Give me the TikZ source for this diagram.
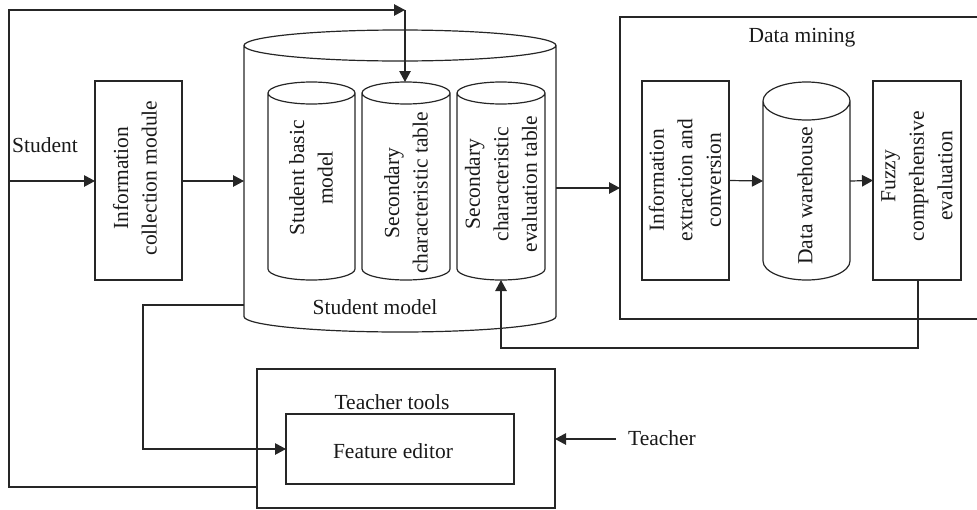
\documentclass[tikz,border=0pt]{standalone}
\usepackage{fontspec}
\setmainfont{Liberation Serif}
\usetikzlibrary{arrows.meta,calc}
\tikzset{
  ln/.style={line width=1.2pt, draw=black!85},
  arr/.style={ln, -{Triangle[length=11pt,width=11.5pt]}},
  txt/.style={font=\fontsize{21.5}{28.5}\selectfont, align=center, inner sep=0pt, text=black!90},
  vtxt/.style={txt, rotate=90},
  blk/.style={ln, inner sep=0pt, outer sep=0pt},
}
\newcommand{\mycyl}[6]{%
  \node[inner sep=0pt, outer sep=0pt, minimum width=#4pt, minimum height=#5pt] (#1) at (#2,#3) {};
  \draw[ln] ([yshift=-#6pt]#1.north west) -- ([yshift=#6pt]#1.south west)
    arc[start angle=180, end angle=360, x radius=#4pt/2, y radius=#6pt]
    -- ([yshift=-#6pt]#1.north east)
    arc[start angle=0, end angle=360, x radius=#4pt/2, y radius=#6pt];
}
\begin{document}
\begin{tikzpicture}[x=1pt,y=-1pt]
\useasboundingbox (0,0) rectangle (977,509);
\clip (0,0) rectangle (977,509);

% Information collection module
\node[blk, draw, minimum width=87pt, minimum height=199pt] (info) at (138.5,180.5) {};
\node[vtxt] at (135,178) {Information\\collection module};

% Student model cylinder and inner tables
\mycyl{sm}{400}{181}{312}{302}{15.5}
\mycyl{ca}{311.5}{181}{87}{198}{11}
\mycyl{cb}{406}{181}{88}{198}{11}
\mycyl{cc}{501}{181}{88}{198}{11}
\node[vtxt] at (311,178) {Student basic\\model};
\node[vtxt] at (406,193) {Secondary\\characteristic table};
\node[vtxt] at (501,184) {Secondary\\characteristic\\evaluation table};
\node[txt] (smlab) at (375,307) {Student model};

% Data mining
\node[blk, draw, minimum width=370pt, minimum height=302pt] (dm) at (805,168) {};
\node[txt] (dmlab) at (802,38) {Data mining};
\node[blk, draw, minimum width=87pt, minimum height=199pt] (iec) at (685.5,180.5) {};
\node[vtxt] at (685,180) {Information\\extraction and\\conversion};
\mycyl{dw}{806.5}{181}{87}{198}{19}
\node[vtxt] at (805,196) {Data warehouse};
\node[blk, draw, minimum width=88pt, minimum height=199pt] (fz) at (917,180.5) {};
\node[vtxt] at (917,176) {Fuzzy\\comprehensive\\evaluation};

% Teacher tools
\node[blk, draw, minimum width=298pt, minimum height=139pt] (tt) at (406,438.5) {};
\node[txt] (ttlab) at (392,402) {Teacher tools};
\node[blk, draw, minimum width=228pt, minimum height=70pt] (fe) at (400,449) {};
\node[txt] at (393,451) {Feature editor};

% outside labels
\node[txt] (stu) at (45,145) {Student};
\node[txt] (tea) at (662,438) {Teacher};
\coordinate (tin) at (616,439);
\coordinate (jn) at (9,181);
\coordinate (tc) at (405,10);

% connectors
\draw[arr] (jn) -- (info.west |- jn);
\draw[arr] (info.east |- jn) -- (sm.west |- jn);
\draw[arr] ($(sm.east)+(0,7)$) -- (dm.west |- 0,188);
\draw[arr] (iec.east) -- (dw.west);
\draw[arr] (dw.east) -- (fz.west);
\draw[arr] (fz.south -| 918,0) -- (918,348) -- (501,348) -- (cc.south);
\draw[arr] (sm.west |- 0,305) -- (143,305) -- (143,449) -- (fe.west);
\draw[arr] (tin) -- (tt.east |- tin);
\draw[arr] (tt.west |- 0,487) -- (9,487) -- (9,10) -- (tc);
\draw[arr] (tc) -- (tc |- cb.north);
\end{tikzpicture}
\end{document}
